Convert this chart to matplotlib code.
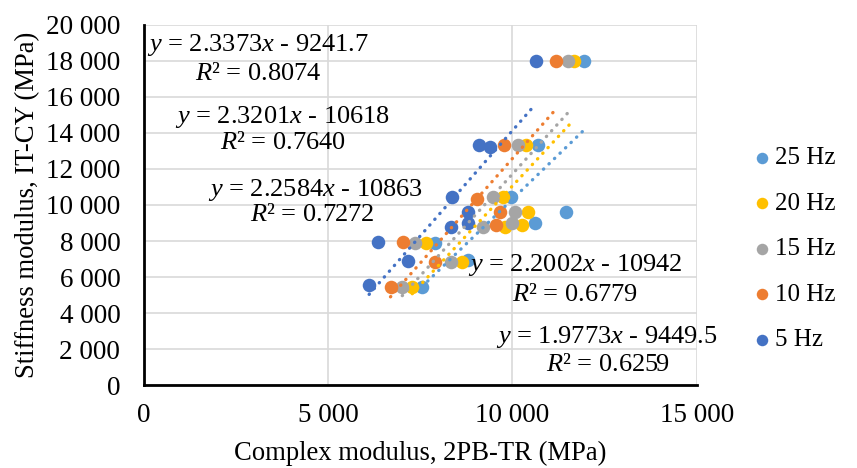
import numpy as np
import matplotlib.pyplot as plt
from matplotlib.ticker import FuncFormatter, MultipleLocator

plt.rcParams['font.family'] = ['Liberation Serif', 'DejaVu Serif']
plt.rcParams['mathtext.fontset'] = 'custom'
plt.rcParams['mathtext.rm'] = 'Liberation Serif'
plt.rcParams['mathtext.it'] = 'Liberation Serif:italic'

labels = ['25 Hz', '20 Hz', '15 Hz', '10 Hz', '5 Hz']
colors = ['#5B9BD5', '#FFC000', '#A5A5A5', '#ED7D31', '#4472C4']

# complex modulus (x) and stiffness modulus (y) per frequency
x25 = [11930, 10680, 9950, 11440, 10620, 7910, 8800, 7550]
y25 = [18000, 13330, 10440, 9610, 9000, 7890, 6940, 5440]
x20 = [11660, 10380, 9730, 10410, 10270, 9810, 7640, 8640, 7280]
y20 = [18000, 13330, 10440, 9610, 8890, 8780, 7890, 6830, 5440]
x15 = [11500, 10140, 9460, 10080, 10000, 9210, 7360, 8320, 7010]
y15 = [18000, 13330, 10440, 9610, 9000, 8780, 7890, 6830, 5440]
x10 = [11170, 9760, 9050, 9670, 9540, 7040, 7910, 6690]
y10 = [18000, 13330, 10330, 9610, 8890, 7940, 6830, 5440]
x5 = [10630, 9080, 9380, 8370, 8780, 8780, 8320, 6360, 7170, 6110]
y5 = [18000, 13330, 13220, 10440, 9610, 9000, 8780, 7940, 6890, 5560]

xs = [x25, x20, x15, x10, x5]
ys = [y25, y20, y15, y10, y5]

slopes = [1.9773, 2.2002, 2.2584, 2.3201, 2.3373]
intercepts = [-9449.5, -10942, -10863, -10618, -9241.7]
r2 = ['0.6259', '0.6779', '0.7272', '0.7640', '0.8074']

fig = plt.figure(figsize=(8.57, 4.68), dpi=100)
ax = fig.add_axes([0.168, 0.177, 0.645, 0.770])

for x, y, c, lab in zip(xs, ys, colors, labels):
    ax.scatter(x, y, s=95, color=c, label=lab, zorder=3, linewidths=0)

for x, m, b, c in zip(xs, slopes, intercepts, colors):
    xx = np.array([min(x), max(x)])
    ax.plot(xx, m * xx + b, color=c, lw=2.4, linestyle=(0, (0.1, 2.2)),
            dash_capstyle='round', zorder=4)

ax.set_xlim(0, 15000)
ax.set_ylim(0, 20000)
ax.xaxis.set_major_locator(MultipleLocator(5000))
ax.yaxis.set_major_locator(MultipleLocator(2000))
fmt = FuncFormatter(lambda v, p: f'{int(v):,}'.replace(',', ' '))
ax.xaxis.set_major_formatter(fmt)
ax.yaxis.set_major_formatter(fmt)
ax.grid(True, color='#D9D9D9', lw=1.2, zorder=0)
ax.set_axisbelow(True)
for s in ['top', 'right']:
    ax.spines[s].set_visible(False)
for s in ['left', 'bottom']:
    ax.spines[s].set_linewidth(2)
ax.tick_params(length=0, labelsize=19.5)
ax.tick_params(axis='y', pad=17)
ax.tick_params(axis='x', pad=13)

ax.set_xlabel('Complex modulus, 2PB-TR (MPa)', fontsize=19.2, labelpad=9)
ax.set_ylabel('Stiffness modulus, IT-CY (MPa)', fontsize=19.2, labelpad=4)

# trendline equation labels (data coords)
eq_pos = [(9540, 2670), (8780, 6670), (1740, 10830), (840, 14890), (80, 18890)]
r2_pos = [(10900, 1110), (10000, 5000), (2880, 9440), (2070, 13440), (1390, 17280)]
for (ex, ey), (rx, ry), m, b, r in zip(eq_pos, r2_pos, slopes, intercepts, r2):
    ax.text(ex, ey, f'$y$ = {m}$x$ - {abs(b):g}', fontsize=19, ha='left', va='center', zorder=5)
    ax.text(rx, ry, f'$R$² = {r}', fontsize=19, ha='left', va='center', zorder=5)

ax.legend(loc='center left', bbox_to_anchor=(1.10, 0.378), frameon=False, fontsize=18,
          handletextpad=0.1, labelspacing=0.92, markerscale=0.85, handlelength=0.8,
          borderpad=0, borderaxespad=0)

fig.savefig('out.png', dpi=100)
